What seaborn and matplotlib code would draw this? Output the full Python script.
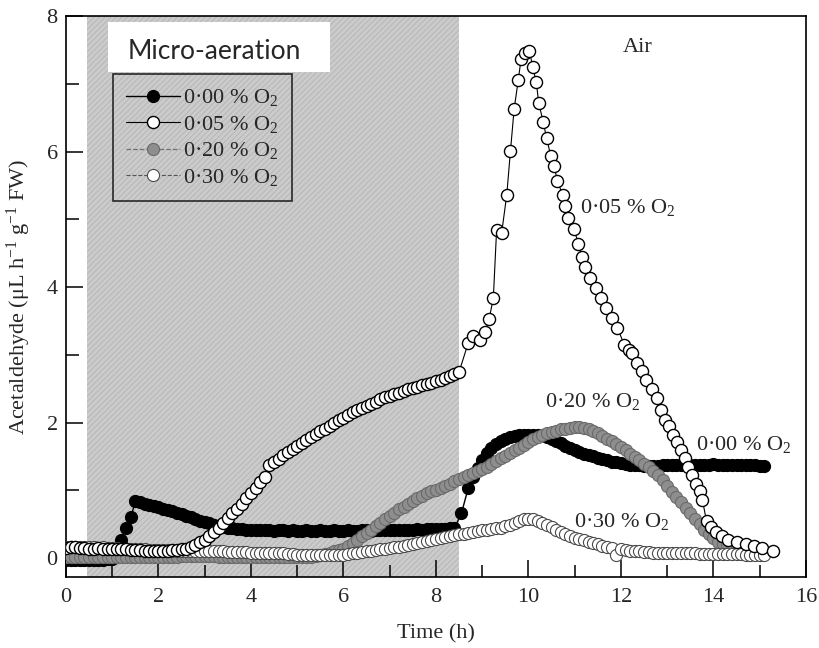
import numpy as np
import pandas as pd
import matplotlib
matplotlib.use("Agg")
import matplotlib.pyplot as plt
from matplotlib.patches import Rectangle
from matplotlib.ticker import MultipleLocator
import seaborn as sns

# ---------------------------------------------------------------------------
# Data: acetaldehyde emission (µL h-1 g-1 FW) logged every 0.1 h
# ---------------------------------------------------------------------------
def hours(start, stop):
    """Logging times (h) at a 6-minute interval, inclusive of stop."""
    return np.round(np.arange(start, stop + 0.05, 0.1), 2)

# 0.00 % O2 (anoxia), logging paused briefly at the switch to air
t_000 = np.r_[hours(0.0, 8.4), 8.55, hours(8.7, 15.1)]
y_000 = [
    -0.03, -0.03, -0.03, -0.03, -0.03, -0.03, -0.03, -0.03, -0.03, -0.02,
    -0.01, 0.10, 0.27, 0.45, 0.60, 0.84, 0.82, 0.80, 0.78, 0.77,
    0.75, 0.73, 0.71, 0.69, 0.67, 0.65, 0.62, 0.60, 0.57, 0.55,
    0.53, 0.51, 0.49, 0.47, 0.46, 0.45, 0.44, 0.43, 0.43, 0.42,
    0.42, 0.41, 0.42, 0.41, 0.41, 0.40, 0.41, 0.41, 0.40, 0.41,
    0.40, 0.40, 0.41, 0.40, 0.40, 0.41, 0.40, 0.40, 0.41, 0.40,
    0.40, 0.41, 0.40, 0.40, 0.41, 0.41, 0.40, 0.41, 0.41, 0.42,
    0.41, 0.42, 0.41, 0.42, 0.42, 0.42, 0.43, 0.42, 0.43, 0.43,
    0.43, 0.43, 0.43, 0.44, 0.44,
    0.66,
    1.04, 1.20, 1.33, 1.45, 1.55, 1.62, 1.68, 1.72, 1.75, 1.78,
    1.80, 1.81, 1.82, 1.82, 1.82, 1.82, 1.81, 1.79, 1.76, 1.73,
    1.70, 1.66, 1.62, 1.59, 1.56, 1.54, 1.52, 1.50, 1.48, 1.46,
    1.44, 1.42, 1.41, 1.40, 1.39, 1.38, 1.37, 1.37, 1.36, 1.36,
    1.36, 1.36, 1.37, 1.37, 1.37, 1.38, 1.38, 1.38, 1.37, 1.37,
    1.38, 1.38, 1.38, 1.39, 1.38, 1.38, 1.38, 1.38, 1.37, 1.37,
    1.37, 1.37, 1.37, 1.36, 1.36,
]

# 0.05 % O2: regular logging under micro-aeration, then the burst in air
t_005 = np.r_[
    hours(0.0, 8.5),
    [8.70, 8.80, 8.95, 9.06, 9.15, 9.24, 9.31, 9.42, 9.53, 9.61,
     9.69, 9.78, 9.84, 9.92, 10.02, 10.09, 10.17, 10.22, 10.32, 10.39,
     10.48, 10.56, 10.62, 10.74, 10.79, 10.86, 10.98, 11.08, 11.15, 11.23,
     11.34, 11.45, 11.56, 11.67, 11.80, 11.92, 12.07, 12.17, 12.23, 12.34,
     12.45, 12.55, 12.66, 12.77, 12.86, 12.95, 13.04, 13.13, 13.22, 13.30,
     13.38, 13.45, 13.53, 13.62, 13.70, 13.76, 13.85, 13.95, 14.06, 14.18,
     14.32, 14.50, 14.70, 14.88, 15.05, 15.28],
]
y_005 = [
    0.15, 0.16, 0.16, 0.15, 0.15, 0.14, 0.14, 0.15, 0.14, 0.14,
    0.14, 0.13, 0.13, 0.13, 0.12, 0.12, 0.12, 0.11, 0.11, 0.11,
    0.11, 0.11, 0.11, 0.12, 0.12, 0.13, 0.14, 0.16, 0.19, 0.23,
    0.27, 0.32, 0.38, 0.45, 0.52, 0.59, 0.66, 0.73, 0.80, 0.88,
    0.96, 1.04, 1.12, 1.20, 1.38, 1.41, 1.46, 1.52, 1.57, 1.61,
    1.65, 1.70, 1.74, 1.79, 1.83, 1.87, 1.91, 1.95, 2.00, 2.03,
    2.07, 2.11, 2.15, 2.18, 2.21, 2.25, 2.28, 2.31, 2.34, 2.37,
    2.39, 2.42, 2.44, 2.46, 2.49, 2.51, 2.53, 2.55, 2.57, 2.59,
    2.61, 2.63, 2.65, 2.68, 2.71, 2.75,
    3.18, 3.27, 3.22, 3.34, 3.53, 3.84, 4.84, 4.80, 5.36, 6.01,
    6.63, 7.06, 7.37, 7.45, 7.49, 7.25, 7.02, 6.72, 6.43, 6.20,
    5.94, 5.78, 5.57, 5.36, 5.20, 5.02, 4.86, 4.64, 4.45, 4.30,
    4.14, 3.99, 3.84, 3.69, 3.55, 3.40, 3.15, 3.07, 3.03, 2.88,
    2.76, 2.63, 2.49, 2.36, 2.18, 2.04, 1.95, 1.82, 1.71, 1.60,
    1.48, 1.35, 1.22, 1.09, 0.99, 0.86, 0.54, 0.46, 0.38, 0.32,
    0.27, 0.23, 0.21, 0.18, 0.15, 0.11,
]

# 0.20 % O2
t_020 = hours(0.0, 15.0)
y_020 = [
    0.02, 0.02, 0.02, 0.02, 0.02, 0.02, 0.02, 0.02, 0.02, 0.02,
    0.02, 0.02, 0.02, 0.02, 0.02, 0.02, 0.02, 0.02, 0.02, 0.02,
    0.02, 0.02, 0.02, 0.02, 0.02, 0.03, 0.03, 0.03, 0.03, 0.03,
    0.03, 0.03, 0.03, 0.02, 0.02, 0.02, 0.02, 0.02, 0.02, 0.02,
    0.01, 0.01, 0.01, 0.01, 0.01, 0.01, 0.01, 0.01, 0.01, 0.01,
    0.01, 0.01, 0.01, 0.02, 0.03, 0.04, 0.06, 0.08, 0.10, 0.12,
    0.14, 0.18, 0.22, 0.27, 0.32, 0.37, 0.42, 0.47, 0.52, 0.57,
    0.62, 0.67, 0.72, 0.76, 0.80, 0.84, 0.88, 0.92, 0.96, 0.99,
    1.00, 1.03, 1.07, 1.10, 1.13, 1.16, 1.19, 1.22, 1.25, 1.28,
    1.31, 1.35, 1.39, 1.43, 1.47, 1.51, 1.55, 1.59, 1.63, 1.67,
    1.71, 1.75, 1.78, 1.81, 1.84, 1.86, 1.88, 1.90, 1.91, 1.92,
    1.93, 1.93, 1.92, 1.90, 1.87, 1.84, 1.80, 1.76, 1.72, 1.68,
    1.64, 1.59, 1.54, 1.49, 1.44, 1.39, 1.34, 1.28, 1.22, 1.15,
    1.06, 0.98, 0.90, 0.82, 0.74, 0.66, 0.58, 0.50, 0.42, 0.35,
    0.29, 0.24, 0.21, 0.19, 0.17, 0.15, 0.14, 0.13, 0.13, 0.12,
    0.12,
]

# 0.30 % O2
t_030 = hours(0.0, 15.1)
y_030 = [
    0.16, 0.17, 0.17, 0.16, 0.17, 0.16, 0.16, 0.15, 0.16, 0.15,
    0.15, 0.15, 0.14, 0.14, 0.14, 0.13, 0.13, 0.13, 0.12, 0.12,
    0.12, 0.12, 0.12, 0.11, 0.11, 0.11, 0.11, 0.11, 0.10, 0.10,
    0.10, 0.10, 0.10, 0.10, 0.10, 0.09, 0.09, 0.09, 0.09, 0.09,
    0.08, 0.08, 0.08, 0.08, 0.08, 0.07, 0.07, 0.07, 0.06, 0.06,
    0.05, 0.05, 0.04, 0.04, 0.04, 0.04, 0.04, 0.04, 0.05, 0.05,
    0.05, 0.06, 0.07, 0.08, 0.09, 0.10, 0.11, 0.12, 0.13, 0.14,
    0.15, 0.16, 0.17, 0.18, 0.19, 0.20, 0.22, 0.23, 0.25, 0.26,
    0.28, 0.29, 0.31, 0.32, 0.34, 0.35, 0.36, 0.37, 0.38, 0.40,
    0.41, 0.42, 0.43, 0.44, 0.45, 0.47, 0.49, 0.52, 0.55, 0.57,
    0.58, 0.57, 0.55, 0.52, 0.49, 0.46, 0.42, 0.39, 0.36, 0.33,
    0.30, 0.28, 0.26, 0.24, 0.22, 0.20, 0.18, 0.16, 0.15, 0.04,
    0.13, 0.12, 0.11, 0.10, 0.10, 0.09, 0.09, 0.08, 0.08, 0.08,
    0.08, 0.07, 0.07, 0.07, 0.07, 0.07, 0.07, 0.06, 0.06, 0.06,
    0.06, 0.06, 0.06, 0.06, 0.06, 0.06, 0.06, 0.05, 0.05, 0.05,
    0.05, 0.05,
]

labels = ["0·00 % O$_2$", "0·05 % O$_2$", "0·20 % O$_2$", "0·30 % O$_2$"]
micro_aeration = (0.46, 8.5)   # hours under micro-aeration before air

# ---------------------------------------------------------------------------
# Style
# ---------------------------------------------------------------------------
sns.set_theme(style="ticks")
plt.rcParams.update({
    "font.family": ["Liberation Serif", "DejaVu Serif"],
    "mathtext.fontset": "custom",
    "mathtext.rm": "Liberation Serif",
    "mathtext.it": "Liberation Serif:italic",
    "mathtext.bf": "Liberation Serif:bold",
    "mathtext.default": "regular",
    "hatch.linewidth": 0.6,
    "axes.linewidth": 1.2,
})

fig = plt.figure(figsize=(8.2, 6.48), dpi=100)
ax = fig.add_axes([66 / 820, 1 - 577 / 648, 740 / 820, 561 / 648])

# micro-aeration period
ax.axvspan(*micro_aeration, facecolor="#cbcbcb", edgecolor="#b3b3b3",
           hatch="//////", linewidth=0, zorder=0)

ms = 8.7
common = dict(marker="o", markersize=ms, estimator=None, sort=False, ax=ax)

frames = {
    "000": pd.DataFrame({"t": t_000, "y": y_000}),
    "005": pd.DataFrame({"t": t_005, "y": y_005}),
    "020": pd.DataFrame({"t": t_020, "y": y_020}),
    "030": pd.DataFrame({"t": t_030, "y": y_030}),
}

sns.lineplot(data=frames["000"], x="t", y="y", color="black", linewidth=1.0,
             markerfacecolor="black", markeredgecolor="black",
             markeredgewidth=0.8, label=labels[0], zorder=2, **common)
sns.lineplot(data=frames["020"], x="t", y="y", color="#707070", linewidth=0.9,
             linestyle="--", markerfacecolor="#8e8e8e",
             markeredgecolor="#6a6a6a", markeredgewidth=0.8,
             label=labels[2], zorder=3, **common)
sns.lineplot(data=frames["030"], x="t", y="y", color="#555555", linewidth=0.8,
             linestyle="--", markerfacecolor="white",
             markeredgecolor="#4a4a4a", markeredgewidth=0.8,
             label=labels[3], zorder=4, **common)
sns.lineplot(data=frames["005"], x="t", y="y", color="black", linewidth=0.8,
             markerfacecolor="white", markeredgecolor="black",
             markeredgewidth=1.0, label=labels[1], zorder=5, **common)

# axes
ax.set_xlim(0, 16)
ax.set_ylim(-0.28, 8)
ax.xaxis.set_major_locator(MultipleLocator(2))
ax.xaxis.set_minor_locator(MultipleLocator(1))
ax.yaxis.set_major_locator(MultipleLocator(2))
ax.yaxis.set_minor_locator(MultipleLocator(1))
ax.tick_params(which="both", direction="in", color="black", labelsize=16,
               width=1.1)
ax.tick_params(which="major", length=12)
ax.tick_params(which="minor", length=9)
ax.tick_params(axis="x", pad=8)
ax.tick_params(axis="y", pad=6)
for s in ax.spines.values():
    s.set_visible(True)
    s.set_color("black")
ax.set_xlabel("Time (h)", fontsize=16, labelpad=12)
ax.set_ylabel("Acetaldehyde (μL h$^{-1}$ g$^{-1}$ FW)", fontsize=16,
              labelpad=10)
ax.grid(False)

# legend
h, l = ax.get_legend_handles_labels()
order = [l.index(lab) for lab in labels]
leg = ax.legend([h[i] for i in order], [l[i] for i in order],
                loc="upper left", bbox_to_anchor=(0.0635, 0.8966),
                borderaxespad=0, fontsize=16, handlelength=2.4,
                handletextpad=0.15, labelspacing=0.25, borderpad=0.6,
                fancybox=False, frameon=True)
leg.get_frame().set_facecolor("none")
leg.get_frame().set_edgecolor("black")
leg.get_frame().set_linewidth(1.2)
leg.set_zorder(6)

# period labels
ax.add_patch(Rectangle((0.91, 7.18), 4.8, 0.73, facecolor="white",
                       edgecolor="none", zorder=6))
ax.text(1.34, 7.47, "Micro-aeration", fontsize=19, family=["Lato", "DejaVu Sans"],
        ha="left", va="center", zorder=7)
ax.text(12.37, 7.54, "Air", fontsize=16, ha="center", va="center")

# series annotations
ax.text(11.11, 5.17, "0·05 % O$_2$", fontsize=16, ha="left", va="center")
ax.text(10.36, 2.31, "0·20 % O$_2$", fontsize=16, ha="left", va="center")
ax.text(13.62, 1.67, "0·00 % O$_2$", fontsize=16, ha="left", va="center")
ax.text(10.98, 0.54, "0·30 % O$_2$", fontsize=16, ha="left", va="center")

fig.savefig("out.png", dpi=100)
